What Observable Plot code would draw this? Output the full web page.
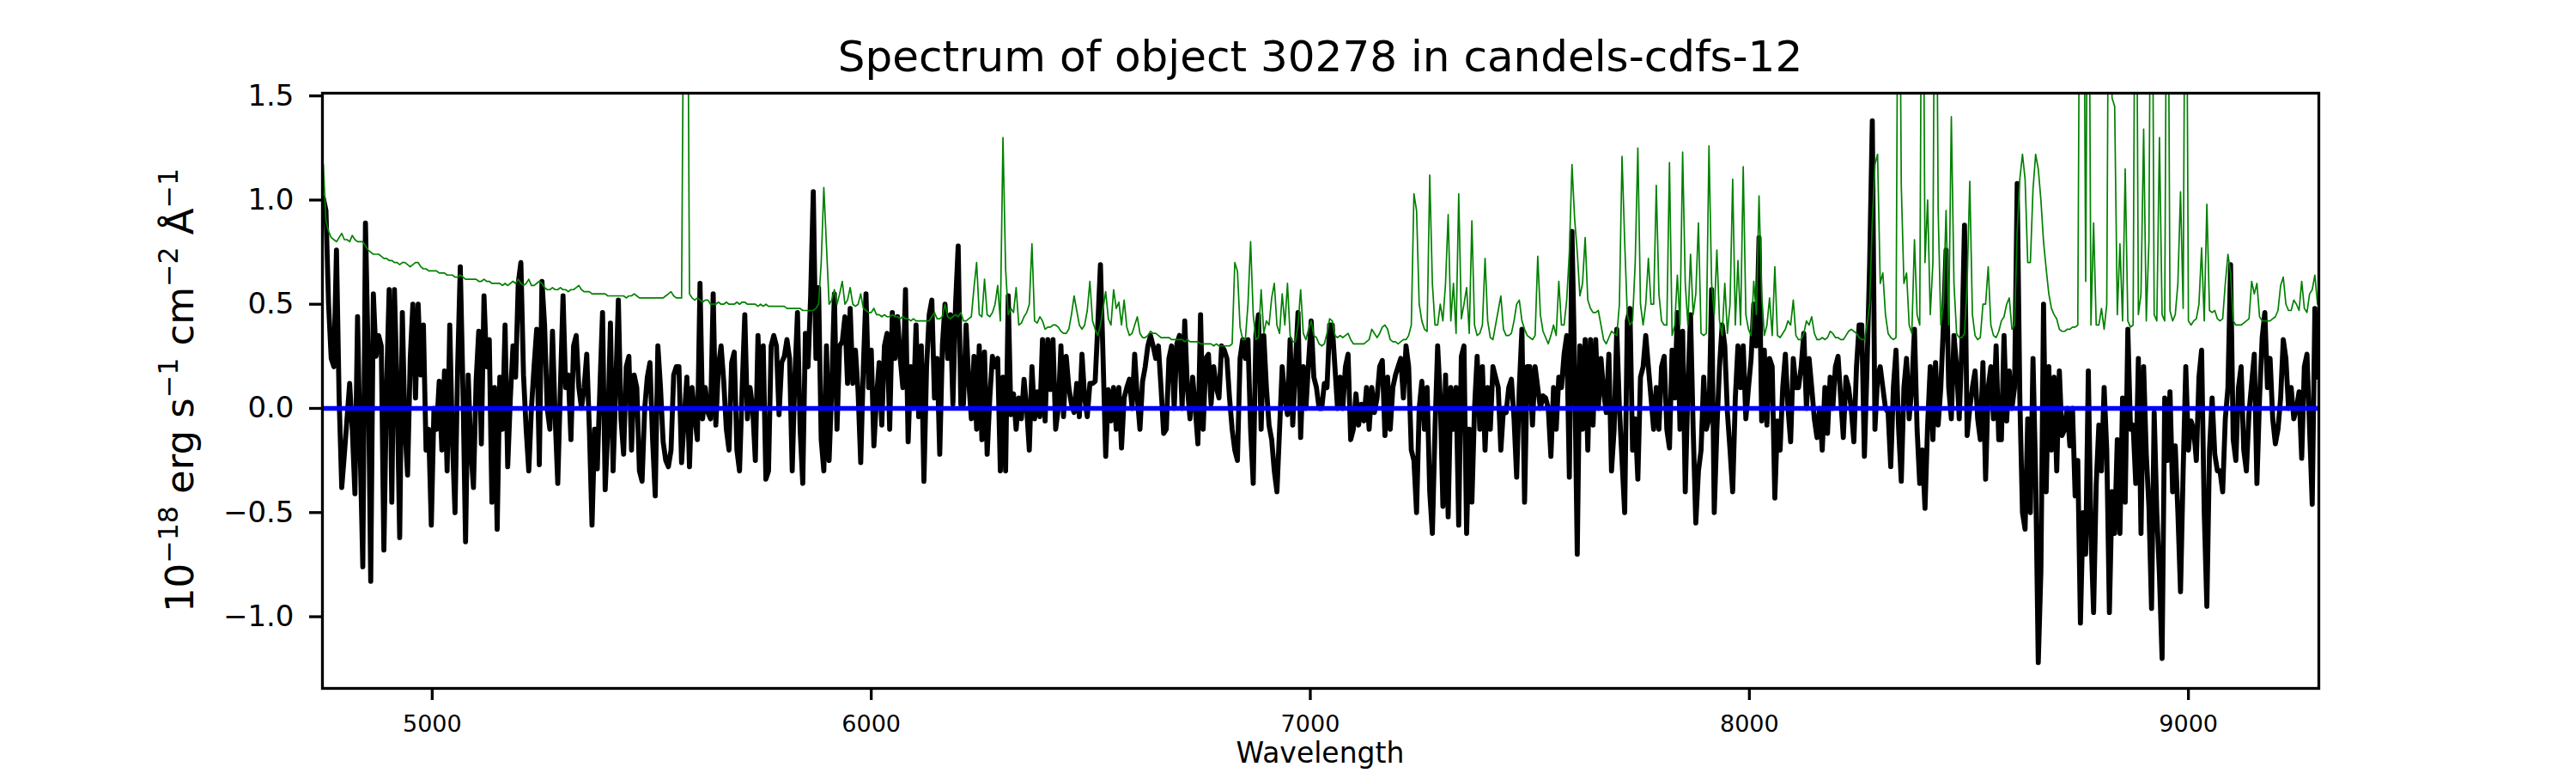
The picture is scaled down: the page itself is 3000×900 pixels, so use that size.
<!DOCTYPE html>
<html><head><meta charset="utf-8">
<script src="https://cdn.jsdelivr.net/npm/d3@7"></script>
<script src="https://cdn.jsdelivr.net/npm/@observablehq/plot@0.6"></script>
<style>
html,body{margin:0;padding:0;background:#fff;}
#chart{width:3000px;height:900px;}
text{white-space:pre;}
</style></head><body><div id="chart"></div>
<script>
const title = "Spectrum of object 30278 in candels-cdfs-12";
const xLabel = "Wavelength";
const yLabelParts = [["10",""],["−18","sup"],[" erg s",""],["−1","sup"],[" cm",""],["−2","sup"],[" Å",""],["−1","sup"]];
const xTicks = [5000,6000,7000,8000,9000];
const yTicks = [-1.0,-0.5,0.0,0.5,1.0,1.5];
const xDomain = [4750, 9297];
const yDomain = [-1.344, 1.513];
const zeroLevel = [0];

// spectrum sampled every 6 Å, in six wavelength segments
const waveStep = 6;
const segmentStarts = [4752, 5526, 6288, 7050, 7812, 8574];

const flux1 = [1.01,0.95,0.5,0.24,0.2,0.76,0.05,-0.38,-0.22,-0.05,
0.12,-0.1,-0.41,0.44,-0.2,-0.76,0.89,0.26,-0.83,0.55,
0.25,0.35,0.3,-0.68,0.1,0.57,-0.45,0.57,0.1,-0.62,
0.46,-0.1,-0.32,0.24,0.5,0.05,0.5,0.16,0.4,-0.2,
-0.1,-0.56,0.0,-0.1,0.13,-0.2,0.18,-0.3,0.4,-0.15,
-0.5,0.2,0.68,0.1,-0.64,0.16,-0.2,-0.38,0.13,0.37,
-0.17,0.54,0.2,0.33,-0.45,0.1,-0.58,0.15,-0.1,0.4,
-0.28,0.05,0.3,0.15,0.6,0.7,0.16,-0.1,-0.3,0.0,
0.2,0.38,-0.27,0.61,0.4,0.0,-0.1,0.37,-0.04,-0.36,
0.1,0.54,0.1,0.16,-0.15,0.3,0.35,0.1,0.0,0.1,
0.26,-0.1,-0.56,-0.1,-0.29,0.1,0.46,-0.39,-0.1,0.41,
-0.3,0.1,0.52,-0.05,-0.22,0.2,0.25,-0.2,0.16,0.1,
-0.3,-0.35,0.0,0.15,0.22,-0.15,-0.42,0.3,0.1];
const flux2 = [-0.16,-0.25,-0.28,-0.2,0.16,0.2,0.2,-0.26,-0.05,0.15,
-0.28,0.1,-0.04,-0.15,0.6,-0.05,0.1,-0.02,-0.05,0.55,
-0.08,0.2,0.3,0.13,-0.1,-0.2,0.22,0.27,-0.2,-0.3,
0.1,0.45,-0.05,0.1,0.0,-0.25,0.35,0.0,0.3,-0.34,
-0.3,0.3,0.35,0.3,-0.03,0.22,0.25,0.33,0.24,-0.3,
0.15,0.46,-0.1,-0.36,0.36,0.2,0.54,1.04,0.24,0.58,
-0.15,-0.3,0.3,-0.25,0.1,0.55,-0.1,0.3,0.32,0.44,
0.12,0.48,0.12,0.28,0.08,-0.26,0.2,0.55,0.1,0.28,
-0.18,0.05,0.22,-0.08,0.3,0.36,-0.1,0.46,0.24,0.44,
0.24,0.1,0.57,-0.16,0.2,0.0,0.4,-0.04,0.3,-0.35,
0.2,0.45,0.52,0.05,0.24,-0.22,0.3,0.5,0.24,0.45,
0.02,0.5,0.78,0.02,0.02,0.4,0.13,-0.05,0.25,-0.1,
0.3,-0.15,0.27,-0.22,0.05,0.25,0.2];
const flux3 = [0.24,-0.3,0.15,-0.3,0.54,-0.03,0.07,-0.1,0.05,-0.05,
0.14,0.0,-0.2,0.2,-0.05,0.08,-0.04,0.33,-0.06,0.33,
0.09,0.33,-0.1,0.0,0.3,-0.04,0.25,0.1,0.02,-0.02,
0.12,-0.04,0.26,0.05,-0.04,0.12,0.12,0.13,0.4,0.69,
0.24,-0.23,0.09,-0.06,0.1,-0.1,0.1,-0.19,0.05,0.1,
0.14,0.0,0.26,0.05,-0.1,0.13,0.2,0.3,0.35,0.3,
0.24,0.3,0.1,-0.12,-0.1,0.24,0.3,0.0,0.31,0.35,
0.0,0.42,0.1,-0.05,0.15,0.0,-0.17,0.45,-0.1,0.24,
0.26,0.02,0.2,0.1,0.05,0.3,0.28,0.24,0.05,-0.1,
-0.2,-0.25,0.24,0.33,0.24,0.33,-0.1,-0.36,0.35,0.45,
-0.1,0.35,0.1,-0.08,-0.15,-0.3,-0.4,-0.1,0.2,0.05,
-0.03,0.33,-0.08,0.2,0.46,-0.14,0.2,0.0,0.22,0.42,
0.15,0.1,0.0,0.0,0.12,0.1,0.4];
const flux4 = [0.4,0.2,0.0,0.15,0.0,0.2,0.26,-0.15,-0.1,0.07,
-0.08,0.02,-0.06,0.1,-0.1,0.1,-0.02,0.05,0.2,0.23,
-0.13,0.15,-0.1,0.1,0.16,0.2,0.24,0.05,0.3,0.2,
-0.2,-0.25,-0.5,0.0,0.13,-0.1,0.1,-0.4,-0.6,-0.1,
0.3,0.05,-0.47,0.16,-0.52,0.1,-0.1,0.1,-0.56,0.25,
0.3,-0.6,-0.1,-0.45,0.0,0.25,-0.1,0.2,-0.2,0.1,
-0.1,0.2,0.15,0.1,-0.2,0.0,-0.02,0.1,0.14,-0.05,
-0.33,0.1,0.38,-0.45,0.2,0.2,-0.08,0.2,0.1,0.0,
0.06,0.05,0.0,-0.23,0.1,-0.1,0.15,0.1,0.26,0.35,
-0.33,0.85,0.2,-0.7,0.3,-0.1,0.33,-0.2,0.33,-0.08,
0.33,0.0,0.24,0.08,-0.02,0.26,-0.3,-0.1,0.38,0.0,
-0.25,-0.5,0.42,0.48,-0.2,-0.05,-0.34,0.15,0.2,0.35,
0.2,0.05,-0.1,0.1,-0.1,0.2,0.25];
const flux5 = [-0.1,-0.19,0.28,0.05,0.46,-0.1,0.37,-0.4,0.1,0.45,
-0.1,-0.55,-0.3,-0.2,0.15,-0.1,-0.05,0.57,-0.5,-0.1,
0.2,0.4,0.3,-0.02,-0.2,-0.4,0.05,0.3,0.1,0.3,
-0.05,0.1,0.24,0.5,0.3,0.82,-0.06,0.28,-0.08,0.24,
0.2,-0.43,-0.06,-0.2,0.1,0.26,0.0,-0.16,0.24,0.1,
0.1,0.2,0.36,0.0,0.24,0.1,-0.05,-0.14,0.0,-0.2,
0.1,-0.12,0.15,0.0,0.2,0.25,0.05,-0.14,0.15,0.1,
0.0,-0.16,0.2,0.4,0.4,-0.23,0.2,0.7,1.38,-0.1,
0.15,0.2,0.1,0.0,-0.02,-0.28,0.1,0.28,-0.1,-0.35,
0.1,0.24,-0.05,0.1,0.38,-0.1,-0.36,-0.2,-0.48,-0.08,
0.2,-0.15,0.22,-0.08,0.1,0.4,0.76,0.1,-0.05,0.35,
0.2,-0.05,0.3,0.88,-0.13,0.0,0.1,0.18,-0.05,-0.15,
0.22,-0.34,0.1,0.2,-0.05,0.3,-0.15];
const flux6 = [-0.15,0.35,-0.06,0.18,0.0,0.1,1.08,0.05,-0.5,-0.58,
-0.05,-0.5,0.24,-0.32,-1.22,-0.78,0.5,-0.4,0.2,-0.2,
0.15,-0.3,0.18,-0.13,-0.1,0.0,-0.18,0.0,-0.42,-0.25,
-1.03,-0.5,-0.7,0.18,-0.6,-0.98,-0.36,-0.08,-0.3,0.1,
-0.2,-0.98,-0.4,-0.6,-0.15,-0.6,0.05,-0.45,0.38,-0.1,
-0.08,-0.36,0.24,-0.6,0.2,-0.22,-0.47,-0.96,-0.02,-0.5,
-0.8,-1.2,0.05,-0.25,0.08,-0.4,-0.18,-0.5,-0.88,-0.3,
0.2,-0.2,-0.06,-0.1,-0.25,0.15,0.28,-0.5,-0.95,-0.2,
0.05,-0.22,-0.3,-0.3,-0.4,-0.05,0.1,0.69,-0.15,-0.25,
0.1,0.2,-0.2,-0.3,-0.02,0.12,0.26,-0.36,0.05,0.34,
0.46,0.1,0.24,-0.05,-0.17,-0.1,0.05,0.33,0.24,0.0,
0.1,-0.05,0.0,0.08,-0.24,0.2,0.26,-0.1,-0.46,0.48,
0.15];

const err1 = [1.17,0.9,0.85,0.82,0.81,0.8,0.82,0.84,0.81,0.81,
0.8,0.83,0.81,0.8,0.8,0.8,0.78,0.76,0.75,0.74,
0.74,0.74,0.73,0.72,0.72,0.71,0.71,0.7,0.7,0.69,
0.7,0.7,0.69,0.68,0.69,0.7,0.7,0.68,0.67,0.67,
0.66,0.66,0.66,0.66,0.65,0.65,0.65,0.64,0.64,0.64,
0.63,0.63,0.64,0.63,0.62,0.62,0.62,0.62,0.62,0.61,
0.61,0.62,0.61,0.61,0.6,0.6,0.6,0.6,0.59,0.6,
0.59,0.6,0.61,0.6,0.62,0.6,0.59,0.6,0.62,0.59,
0.59,0.6,0.61,0.6,0.58,0.57,0.57,0.58,0.57,0.57,
0.58,0.57,0.57,0.56,0.57,0.57,0.58,0.59,0.57,0.56,
0.56,0.56,0.55,0.55,0.55,0.55,0.55,0.55,0.54,0.54,
0.54,0.54,0.54,0.54,0.54,0.53,0.54,0.54,0.55,0.54,
0.53,0.53,0.53,0.53,0.53,0.53,0.53,0.53,0.53];
const err2 = [0.53,0.54,0.55,0.56,0.54,0.53,0.53,0.53,
2.5,3.0,0.55,
0.53,0.52,0.53,0.52,0.51,0.52,0.52,0.5,0.5,0.5,
0.51,0.5,0.5,0.51,0.5,0.5,0.5,0.51,0.5,0.51,
0.51,0.5,0.5,0.5,0.5,0.49,0.5,0.49,0.5,0.49,
0.49,0.49,0.49,0.49,0.49,0.49,0.48,0.48,0.48,0.48,
0.48,0.48,0.47,0.47,0.47,0.47,0.47,0.48,0.5,0.7,
1.06,0.78,0.5,0.52,0.57,0.5,0.55,0.61,0.5,0.52,
0.58,0.5,0.49,0.5,0.55,0.48,0.47,0.46,0.46,0.48,
0.45,0.45,0.44,0.45,0.44,0.44,0.45,0.44,0.44,0.43,
0.44,0.43,0.43,0.42,0.43,0.42,0.42,0.42,0.42,0.42,
0.42,0.44,0.46,0.43,0.43,0.44,0.5,0.44,0.43,0.44,
0.45,0.44,0.46,0.42,0.42,0.43,0.44,0.58,0.7,0.45,
0.44,0.62,0.45,0.44,0.46,0.5];
const err3 = [0.59,0.42,1.3,0.67,0.45,0.48,0.46,0.58,0.4,0.41,
0.44,0.46,0.5,0.79,0.42,0.41,0.44,0.42,0.38,0.39,
0.39,0.4,0.4,0.39,0.37,0.36,0.36,0.38,0.45,0.54,
0.47,0.4,0.38,0.4,0.47,0.61,0.42,0.38,0.35,0.4,
0.48,0.56,0.43,0.4,0.57,0.48,0.51,0.4,0.52,0.39,
0.35,0.36,0.4,0.44,0.36,0.34,0.34,0.35,0.37,0.36,
0.36,0.35,0.34,0.34,0.34,0.34,0.33,0.33,0.33,0.33,
0.33,0.32,0.33,0.32,0.32,0.32,0.32,0.31,0.31,0.31,
0.31,0.31,0.3,0.31,0.3,0.3,0.3,0.3,0.3,0.31,
0.7,0.66,0.39,0.33,0.33,0.5,0.8,0.45,0.33,0.34,
0.57,0.36,0.42,0.4,0.53,0.6,0.4,0.36,0.55,0.4,
0.6,0.35,0.32,0.32,0.4,0.57,0.36,0.33,0.38,0.42,
0.35,0.34,0.31,0.3,0.31,0.36,0.43];
const err4 = [0.42,0.35,0.34,0.35,0.34,0.35,0.36,0.33,0.31,0.31,
0.31,0.31,0.31,0.32,0.33,0.38,0.36,0.34,0.36,0.39,
0.4,0.38,0.33,0.32,0.32,0.31,0.32,0.33,0.33,0.35,
0.4,1.03,0.95,0.5,0.42,0.38,0.37,1.12,0.6,0.4,
0.4,0.5,0.42,0.6,0.93,0.42,0.6,0.36,1.03,0.43,
0.5,0.58,0.36,0.9,0.4,0.35,0.36,0.4,0.72,0.42,
0.34,0.33,0.4,0.47,0.54,0.38,0.35,0.35,0.36,0.42,
0.5,0.52,0.42,0.38,0.35,0.34,0.33,0.35,0.73,0.45,
0.37,0.34,0.31,0.35,0.4,0.35,0.61,0.4,0.4,0.52,
0.75,1.17,0.91,0.75,0.54,0.6,0.82,0.52,0.48,0.46,
0.46,0.47,0.4,0.33,0.31,0.34,0.37,0.36,0.35,0.5,
1.21,0.8,0.45,0.4,0.42,0.7,1.25,0.5,0.4,0.5,
0.72,0.5,0.5,1.07,0.55,0.42,0.4];
const err5 = [0.4,1.18,0.35,0.4,0.64,0.4,1.23,0.6,0.4,0.74,
0.45,0.55,0.89,0.36,0.35,0.36,1.26,0.6,0.45,0.76,
0.42,0.35,0.6,0.36,0.5,1.1,0.4,0.71,0.4,1.16,
0.45,0.38,0.35,0.61,0.45,1.02,0.55,0.35,0.4,0.53,
0.35,0.68,0.35,0.34,0.36,0.38,0.42,0.4,0.52,0.35,
0.33,0.33,0.36,0.42,0.4,0.44,0.36,0.33,0.33,0.34,
0.33,0.34,0.37,0.36,0.34,0.34,0.33,0.33,0.35,0.37,
0.38,0.37,0.36,0.34,0.33,0.33,0.4,0.5,0.9,1.17,
1.22,0.6,0.65,0.45,0.36,0.34,0.33,0.34,3.0,1.07,
0.6,0.65,0.4,0.36,0.81,0.45,0.4,3.0,0.7,1.0,
0.45,0.7,3.0,0.95,0.4,0.5,0.95,0.4,1.4,0.6,
0.36,0.34,0.34,0.36,0.6,1.09,0.45,0.35,0.33,0.34,
0.5,0.5,0.68,0.4,0.35,0.34,0.37];
const err6 = [0.42,0.44,0.5,0.53,0.38,0.4,0.85,1.1,1.22,1.1,
0.7,0.7,1.05,1.22,1.15,1.0,0.8,0.67,0.55,0.48,
0.45,0.43,0.38,0.37,0.37,0.38,0.38,0.39,0.39,0.4,
3.0,3.0,0.61,3.0,0.4,0.89,0.4,0.4,0.48,0.38,
0.5,3.0,1.49,1.45,0.45,0.79,0.42,1.15,0.42,0.39,
0.4,3.0,0.45,0.55,1.34,0.42,0.8,3.0,0.45,0.42,
1.3,0.45,0.42,3.0,0.47,0.42,0.45,0.6,1.04,0.48,
3.0,0.42,0.4,0.42,0.43,0.5,0.77,0.42,0.98,0.47,
0.46,0.47,0.43,0.42,0.43,0.6,0.74,0.65,0.42,0.4,
0.4,0.4,0.41,0.42,0.43,0.61,0.55,0.6,0.44,0.42,
0.42,0.42,0.42,0.43,0.44,0.47,0.59,0.63,0.5,0.47,
0.47,0.52,0.5,0.47,0.61,0.48,0.46,0.55,0.57,0.64,
0.5];

const fluxSegments = [flux1, flux2, flux3, flux4, flux5, flux6];
const errSegments = [err1, err2, err3, err4, err5, err6];

const rows = [];
fluxSegments.forEach((seg, k) => {
  seg.forEach((f, j) => {
    rows.push({wave: segmentStarts[k] + waveStep * j, flux: f, err: errSegments[k][j]});
  });
});

const plot = Plot.plot({
  width: 3000,
  height: 900,
  marginLeft: 375,
  marginRight: 300,
  marginTop: 108,
  marginBottom: 99,
  style: {fontFamily: "DejaVu Sans", background: "white", color: "black"},
  x: {domain: xDomain},
  y: {domain: yDomain},
  marks: [
    Plot.line(rows, {x: "wave", y: "flux", stroke: "black", strokeWidth: 5.8, strokeLinejoin: "round", clip: true}),
    Plot.line(rows, {x: "wave", y: "err", stroke: "green", strokeWidth: 1.7, clip: true}),
    Plot.ruleY(zeroLevel, {stroke: "blue", strokeWidth: 5.4}),
    Plot.frame({stroke: "black", strokeWidth: 3.3}),
    Plot.axisX({ticks: xTicks, tickSize: 14, tickPadding: 17, fontSize: 27, label: null, strokeWidth: 3.3, tickFormat: d3.format("d")}),
    Plot.axisY({ticks: yTicks, tickSize: 15, tickPadding: 18, fontSize: 34, label: null, strokeWidth: 3.3, tickFormat: d3.format(".1f")})
  ]
});

const svg = d3.select(plot);
svg.selectAll('g[aria-label="x-axis tick label"]').attr("font-size", 27).attr("fill", "black");
svg.selectAll('g[aria-label="y-axis tick label"]').attr("font-size", 34).attr("fill", "black");
svg.selectAll('g[aria-label="x-axis tick"], g[aria-label="y-axis tick"]').attr("stroke-width", 3.3).attr("stroke", "black");

const sx = plot.scale("x"), sy = plot.scale("y");
const [xl, xr] = sx.range;
const [yb, yt] = sy.range;
const cx = (xl + xr) / 2, cy = (yb + yt) / 2;

svg.append("text")
  .attr("x", cx).attr("y", yt - 25)
  .attr("text-anchor", "middle").attr("font-size", 50)
  .attr("font-family", "DejaVu Sans").attr("fill", "black")
  .text(title);

svg.append("text")
  .attr("x", cx).attr("y", yb + 87)
  .attr("text-anchor", "middle").attr("font-size", 33)
  .attr("font-family", "DejaVu Sans").attr("fill", "black")
  .text(xLabel);

const yl = svg.append("text")
  .attr("transform", `translate(${xl - 150},${cy}) rotate(-90)`)
  .attr("text-anchor", "middle").attr("font-size", 45)
  .attr("font-family", "DejaVu Sans").attr("fill", "black");
let prevSup = false;
yLabelParts.forEach(([s, kind]) => {
  const sup = kind === "sup";
  const t = yl.append("tspan").text(s);
  if (sup) { t.attr("font-size", 31.5); if (!prevSup) t.attr("dy", -18); }
  else if (prevSup) t.attr("dy", 18);
  prevSup = sup;
});

document.getElementById("chart").appendChild(plot);
</script>
</body></html>
